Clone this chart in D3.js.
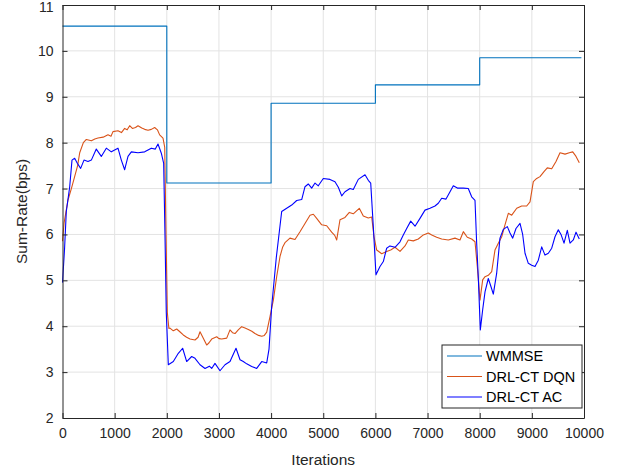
<!DOCTYPE html>
<html>
<head>
<meta charset="utf-8">
<script src="https://cdn.jsdelivr.net/npm/d3@7"></script>
<style>
  body { margin: 0; background: #fff; }
  svg { display: block; font-family: "Liberation Sans", Arial, sans-serif; }
</style>
</head>
<body>
<svg></svg>
<script>
// values
let xTicks = [0, 1000, 2000, 3000, 4000, 5000, 6000, 7000, 8000, 9000, 10000]
let yTicks = [2, 3, 4, 5, 6, 7, 8, 9, 10, 11]

let seriesNames = ["WMMSE", "DRL-CT DQN", "DRL-CT AC"]
let seriesColors = ["#0072BD", "#D95319", "#0000FF"]

// WMMSE is piecewise constant: [start, end, value]
let wmmseSteps = [
  [0, 2000, 10.54],
  [2000, 4000, 7.12],
  [4000, 6000, 8.86],
  [6000, 8000, 9.26],
  [8000, 9950, 9.85]
]

// [iteration, sum-rate]
let dqnData = [
  [0, 5.85], [30, 6.25], [60, 6.45], [105, 6.75], [170, 7.0], [233, 7.26], [290, 7.5], [330, 7.78],
  [400, 8.0], [457, 8.07], [553, 8.04], [620, 8.08], [680, 8.10], [780, 8.12], [872, 8.17],
  [930, 8.14], [968, 8.24], [1064, 8.26], [1130, 8.22], [1192, 8.31], [1240, 8.28], [1288, 8.37],
  [1340, 8.31], [1400, 8.33], [1448, 8.37], [1520, 8.32], [1576, 8.29], [1640, 8.27], [1703, 8.29],
  [1767, 8.33], [1820, 8.28], [1863, 8.17], [1927, 8.10], [1960, 7.9], [1985, 6.0], [2010, 4.3],
  [2040, 3.95], [2061, 3.96], [2125, 3.90], [2190, 3.94], [2250, 3.88], [2316, 3.81], [2380, 3.76],
  [2445, 3.72], [2541, 3.70], [2600, 3.76], [2637, 3.88], [2700, 3.74], [2765, 3.59], [2810, 3.64],
  [2861, 3.72], [2957, 3.77], [3000, 3.73], [3053, 3.72], [3149, 3.74], [3212, 3.92], [3260, 3.86],
  [3308, 3.84], [3370, 3.92], [3436, 3.99], [3500, 3.96], [3563, 3.93], [3630, 3.89], [3691, 3.84],
  [3760, 3.80], [3820, 3.78], [3870, 3.80], [3916, 3.87], [3979, 4.21], [4043, 4.57], [4107, 5.08],
  [4171, 5.52], [4220, 5.72], [4266, 5.82], [4362, 5.92], [4458, 5.89], [4554, 6.06], [4650, 6.24],
  [4746, 6.42], [4810, 6.44], [4874, 6.35], [4970, 6.21], [5066, 6.19], [5161, 6.05], [5220, 5.98],
  [5258, 5.88], [5321, 6.32], [5417, 6.37], [5500, 6.48], [5576, 6.45], [5691, 6.57], [5768, 6.40],
  [5864, 6.36], [5929, 6.38], [5973, 5.95], [6025, 5.66], [6121, 5.58], [6216, 5.63], [6293, 5.66],
  [6376, 5.72], [6472, 5.63], [6568, 5.75], [6631, 5.88], [6727, 5.86], [6823, 5.90], [6919, 5.99],
  [7015, 6.03], [7080, 5.99], [7175, 5.94], [7271, 5.90], [7398, 5.88], [7526, 5.92], [7622, 5.88],
  [7686, 6.06], [7762, 5.94], [7846, 5.90], [7910, 5.84], [7954, 5.30], [8006, 4.57], [8057, 5.01],
  [8102, 5.08], [8165, 5.11], [8230, 5.19], [8293, 5.66], [8357, 5.81], [8422, 5.95], [8485, 6.21],
  [8549, 6.46], [8614, 6.42], [8710, 6.57], [8805, 6.62], [8901, 6.62], [8965, 6.71], [9028, 7.15],
  [9093, 7.22], [9156, 7.26], [9233, 7.37], [9296, 7.45], [9381, 7.43], [9463, 7.59], [9540, 7.78],
  [9636, 7.75], [9718, 7.78], [9784, 7.80], [9847, 7.70], [9910, 7.56]
]

let acData = [
  [0, 4.95], [40, 5.7], [73, 6.5], [138, 7.04], [182, 7.62], [233, 7.66], [284, 7.55], [348, 7.44],
  [412, 7.62], [489, 7.59], [553, 7.62], [648, 7.86], [744, 7.70], [840, 7.88], [936, 7.80],
  [1000, 7.84], [1064, 7.88], [1128, 7.62], [1192, 7.41], [1256, 7.70], [1320, 7.80], [1448, 7.78],
  [1576, 7.80], [1703, 7.88], [1780, 7.86], [1831, 7.97], [1895, 7.77], [1940, 7.55], [1965, 6.0],
  [1990, 4.3], [2029, 3.16], [2125, 3.23], [2221, 3.41], [2304, 3.52], [2381, 3.23], [2477, 3.34],
  [2541, 3.30], [2637, 3.16], [2733, 3.08], [2816, 3.13], [2861, 3.08], [2924, 3.19], [3020, 3.03],
  [3116, 3.16], [3212, 3.23], [3327, 3.52], [3404, 3.27], [3467, 3.23], [3532, 3.18], [3628, 3.12],
  [3724, 3.08], [3820, 3.23], [3916, 3.20], [3960, 3.5], [4011, 4.43], [4100, 5.5], [4203, 6.50],
  [4299, 6.57], [4395, 6.64], [4491, 6.74], [4587, 6.76], [4650, 7.04], [4713, 7.10], [4778, 7.01],
  [4842, 7.12], [4905, 7.06], [5001, 7.22], [5129, 7.20], [5225, 7.15], [5289, 7.03], [5354, 6.84],
  [5417, 6.93], [5513, 7.00], [5576, 6.98], [5672, 7.20], [5801, 7.30], [5864, 7.18], [5910, 7.12],
  [5960, 6.17], [6011, 5.12], [6088, 5.30], [6152, 5.41], [6216, 5.70], [6280, 5.75], [6376, 5.72],
  [6472, 5.84], [6535, 5.99], [6600, 6.13], [6677, 6.29], [6760, 6.18], [6855, 6.35], [6951, 6.53],
  [7047, 6.57], [7143, 6.62], [7206, 6.68], [7271, 6.79], [7354, 6.77], [7431, 6.93], [7494, 7.06],
  [7571, 7.01], [7686, 7.01], [7781, 7.00], [7846, 6.82], [7910, 6.74], [7942, 5.81], [7974, 5.04],
  [8012, 3.92], [8057, 4.36], [8102, 4.75], [8165, 5.04], [8217, 4.86], [8261, 4.70], [8325, 5.15],
  [8389, 5.92], [8453, 6.11], [8530, 6.17], [8581, 6.03], [8633, 5.92], [8696, 6.13], [8773, 6.24],
  [8824, 6.00], [8869, 5.59], [8932, 5.37], [8997, 5.33], [9061, 5.30], [9124, 5.44], [9189, 5.73],
  [9252, 5.55], [9316, 5.59], [9381, 5.70], [9444, 5.95], [9507, 6.10], [9559, 6.00], [9617, 5.81],
  [9680, 6.09], [9732, 5.81], [9795, 5.88], [9847, 6.05], [9910, 5.90]
]

let width = 624
let height = 474
let margin = { top: 5, right: 40, bottom: 56, left: 62.5 }

let svg = d3.select("svg")
  .attr("width", width)
  .attr("height", height)

let xScale = d3.scaleLinear()
  .domain([0, 10000])
  .range([margin.left, width - margin.right])

let yScale = d3.scaleLinear()
  .domain([2, 11])
  .range([height - margin.bottom, margin.top])

let axisColor = "#262626"
let gridColor = "#e3e3e3"

// grid lines
svg.append("g")
  .selectAll("line")
  .data(xTicks.slice(1, -1))
  .enter()
  .append("line")
  .attr("x1", d => xScale(d)).attr("x2", d => xScale(d))
  .attr("y1", yScale(2)).attr("y2", yScale(11))
  .attr("stroke", gridColor)

svg.append("g")
  .selectAll("line")
  .data(yTicks.slice(1, -1))
  .enter()
  .append("line")
  .attr("x1", xScale(0)).attr("x2", xScale(10000))
  .attr("y1", d => yScale(d)).attr("y2", d => yScale(d))
  .attr("stroke", gridColor)

// data lines
let wmmsePoints = []
wmmseSteps.forEach(s => {
  wmmsePoints.push([s[0], s[2]])
  wmmsePoints.push([s[1], s[2]])
})

let line = d3.line()
  .x(d => xScale(d[0]))
  .y(d => yScale(d[1]))

let allSeries = [wmmsePoints, dqnData, acData]

svg.append("g")
  .selectAll("path")
  .data(allSeries)
  .enter()
  .append("path")
  .attr("d", line)
  .attr("fill", "none")
  .attr("stroke", (d, i) => seriesColors[i])
  .attr("stroke-width", 1.1)
  .attr("stroke-linejoin", "round")

// axes, MATLAB style with inward ticks on all four sides
let styleAxis = g => {
  g.select(".domain").attr("stroke", axisColor)
  g.selectAll(".tick line").attr("stroke", axisColor)
  g.selectAll(".tick text").attr("fill", axisColor).style("font-size", "14px")
}

svg.append("g")
  .attr("transform", "translate(0," + yScale(2) + ")")
  .call(d3.axisBottom(xScale).tickValues(xTicks).tickFormat(d3.format("d"))
    .tickSizeInner(-5).tickSizeOuter(0).tickPadding(10))
  .call(styleAxis)

svg.append("g")
  .attr("transform", "translate(0," + yScale(11) + ")")
  .call(d3.axisTop(xScale).tickValues(xTicks).tickSizeInner(-5).tickSizeOuter(0).tickFormat(""))
  .call(styleAxis)

svg.append("g")
  .attr("transform", "translate(" + xScale(0) + ",0)")
  .call(d3.axisLeft(yScale).tickValues(yTicks).tickFormat(d3.format("d"))
    .tickSizeInner(-5).tickSizeOuter(0).tickPadding(9))
  .call(styleAxis)
  .selectAll(".tick text")
  .attr("dy", d => d === 11 ? "0.45em" : "0.32em")

svg.append("g")
  .attr("transform", "translate(" + xScale(10000) + ",0)")
  .call(d3.axisRight(yScale).tickValues(yTicks).tickSizeInner(-5).tickSizeOuter(0).tickFormat(""))
  .call(styleAxis)

// axis labels
svg.append("text")
  .attr("x", (xScale(0) + xScale(10000)) / 2)
  .attr("y", 465)
  .attr("text-anchor", "middle")
  .attr("fill", axisColor)
  .style("font-size", "15.5px")
  .text("Iterations")

svg.append("text")
  .attr("transform", "translate(27," + (yScale(6.5)) + ") rotate(-90)")
  .attr("text-anchor", "middle")
  .attr("fill", axisColor)
  .style("font-size", "15.5px")
  .text("Sum-Rate(bps)")

// legend
let legend = svg.append("g")
  .attr("transform", "translate(442,345)")

legend.append("rect")
  .attr("width", 140)
  .attr("height", 63)
  .attr("fill", "#fff")
  .attr("stroke", axisColor)

seriesNames.forEach((name, i) => {
  let y = 11 + i * 20.5
  legend.append("line")
    .attr("x1", 5).attr("x2", 40)
    .attr("y1", y).attr("y2", y)
    .attr("stroke", seriesColors[i])
    .attr("stroke-width", 1.1)
  legend.append("text")
    .attr("x", 44)
    .attr("y", y + 5)
    .attr("fill", "#000")
    .style("font-size", "14.5px")
    .text(name)
})
</script>
</body>
</html>
